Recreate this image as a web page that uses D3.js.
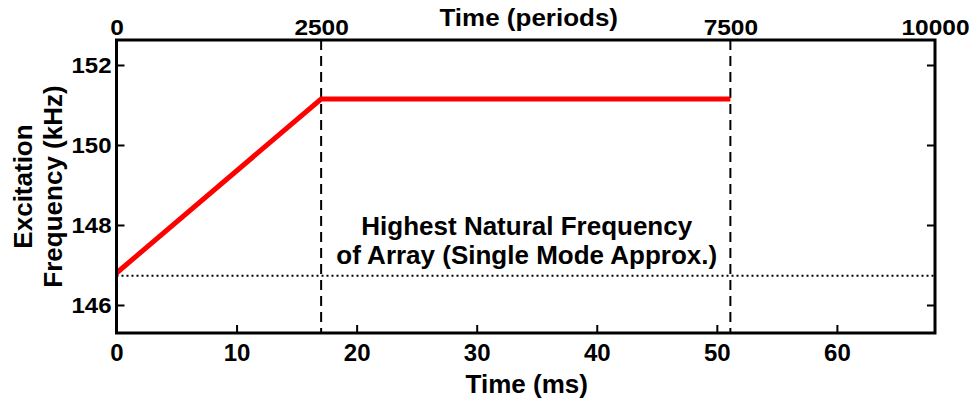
<!DOCTYPE html>
<html>
<head>
<meta charset="utf-8">
<script src="https://cdn.jsdelivr.net/npm/d3@7/dist/d3.min.js"></script>
<style>
  html, body { margin: 0; padding: 0; background: #fff; }
  svg { display: block; font-family: Arial, "Liberation Sans", Helvetica, sans-serif; font-weight: bold; }
</style>
</head>
<body>
<svg id="chart" width="979" height="404"></svg>
<script>
// ---- data ----
const timeMs = [0, 17.04, 51.13];
const freqKHz = [146.8, 151.15, 151.15];
const markerPeriods = [2500, 7500];
const naturalFreq = 146.73;
const xTicksMs = [0, 10, 20, 30, 40, 50, 60];
const topTicksPeriods = [0, 2500, 7500, 10000];
const yTicks = [146, 148, 150, 152];
const annotationLines = ["Highest Natural Frequency", "of Array (Single Mode Approx.)"];

// ---- layout ----
const pL = 116.5, pR = 935, pT = 40, pB = 333;
const svg = d3.select("#chart");

const x = d3.scaleLinear().domain([0, 68.17]).range([pL, pR]);
const xp = d3.scaleLinear().domain([0, 10000]).range([pL, pR]);
const y = d3.scaleLinear().domain([145.3, 152.625]).range([pB, pT]);

// dotted natural frequency line
svg.append("line")
  .attr("x1", pL).attr("x2", pR)
  .attr("y1", y(naturalFreq)).attr("y2", y(naturalFreq))
  .attr("stroke", "#000").attr("stroke-width", 2)
  .attr("stroke-dasharray", "2,3");

// dashed vertical markers
svg.selectAll("line.marker").data(markerPeriods).enter().append("line")
  .attr("class", "marker")
  .attr("x1", d => xp(d)).attr("x2", d => xp(d))
  .attr("y1", pT).attr("y2", pB)
  .attr("stroke", "#000").attr("stroke-width", 2)
  .attr("stroke-dasharray", "10,6");

// red line
const pts = timeMs.map((t, i) => [t, freqKHz[i]]);
svg.append("path")
  .datum(pts)
  .attr("fill", "none")
  .attr("stroke", "#ff0000")
  .attr("stroke-width", 5)
  .attr("d", d3.line().x(d => x(d[0])).y(d => y(d[1])));

// annotation
const ann = svg.append("text")
  .attr("text-anchor", "middle")
  .attr("font-size", 26)
  .attr("fill", "#000");
annotationLines.forEach((t, i) => {
  ann.append("tspan")
    .attr("x", (xp(markerPeriods[0]) + xp(markerPeriods[1])) / 2 + 1)
    .attr("y", 235 + i * 28.5)
    .text(t);
});

// axes
function styleAxis(g) {
  g.select(".domain").remove();
  g.selectAll(".tick line").attr("stroke", "#000").attr("stroke-width", 2);
  g.selectAll(".tick text").attr("fill", "#000");
  g.attr("font-family", null);
}

svg.append("g")
  .attr("transform", `translate(0,${pB})`)
  .call(d3.axisBottom(x).tickValues(xTicksMs).tickSizeInner(-8).tickSizeOuter(0).tickPadding(11))
  .call(styleAxis)
  .attr("font-size", 24);

svg.append("g")
  .attr("transform", `translate(${pL},0)`)
  .call(d3.axisLeft(y).tickValues(yTicks).tickSizeInner(-8).tickSizeOuter(0).tickPadding(5))
  .call(styleAxis)
  .attr("font-size", 24)
  .call(g => g.selectAll(".tick text").attr("dy", "0.36em").attr("transform", "scale(1,0.92)"));

svg.append("g")
  .attr("transform", `translate(${pR},0)`)
  .call(d3.axisRight(y).tickValues(yTicks).tickSizeInner(-8).tickSizeOuter(0).tickFormat(""))
  .call(styleAxis);

svg.append("g")
  .attr("transform", `translate(0,${pT})`)
  .call(d3.axisTop(xp).tickValues(topTicksPeriods).tickFormat(d3.format("d"))
      .tickSizeInner(0).tickSizeOuter(0).tickPadding(0))
  .call(styleAxis)
  .attr("font-size", 24.5)
  .call(g => g.selectAll(".tick text").attr("y", 0).attr("dy", 0)
      .attr("transform", "translate(0,-5) scale(1,0.88)"));

// frame
svg.append("rect")
  .attr("x", pL).attr("y", pT)
  .attr("width", pR - pL).attr("height", pB - pT)
  .attr("fill", "none").attr("stroke", "#000").attr("stroke-width", 3);

// titles
svg.append("text")
  .attr("x", (pL + pR) / 2 + 1).attr("y", 393)
  .attr("text-anchor", "middle").attr("font-size", 26)
  .text("Time (ms)");

svg.append("text")
  .attr("x", (pL + pR) / 2 + 3).attr("y", 26)
  .attr("text-anchor", "middle").attr("font-size", 26)
  .attr("transform", `translate(0,${26 * 0.1}) scale(1,0.9)`)
  .text("Time (periods)");

const yt = svg.append("text")
  .attr("transform", `translate(0,${(pT + pB) / 2}) rotate(-90)`)
  .attr("text-anchor", "middle").attr("font-size", 26);
yt.append("tspan").attr("x", 0).attr("y", 32).text("Excitation");
yt.append("tspan").attr("x", 0).attr("y", 62).text("Frequency (kHz)");
</script>
</body>
</html>
